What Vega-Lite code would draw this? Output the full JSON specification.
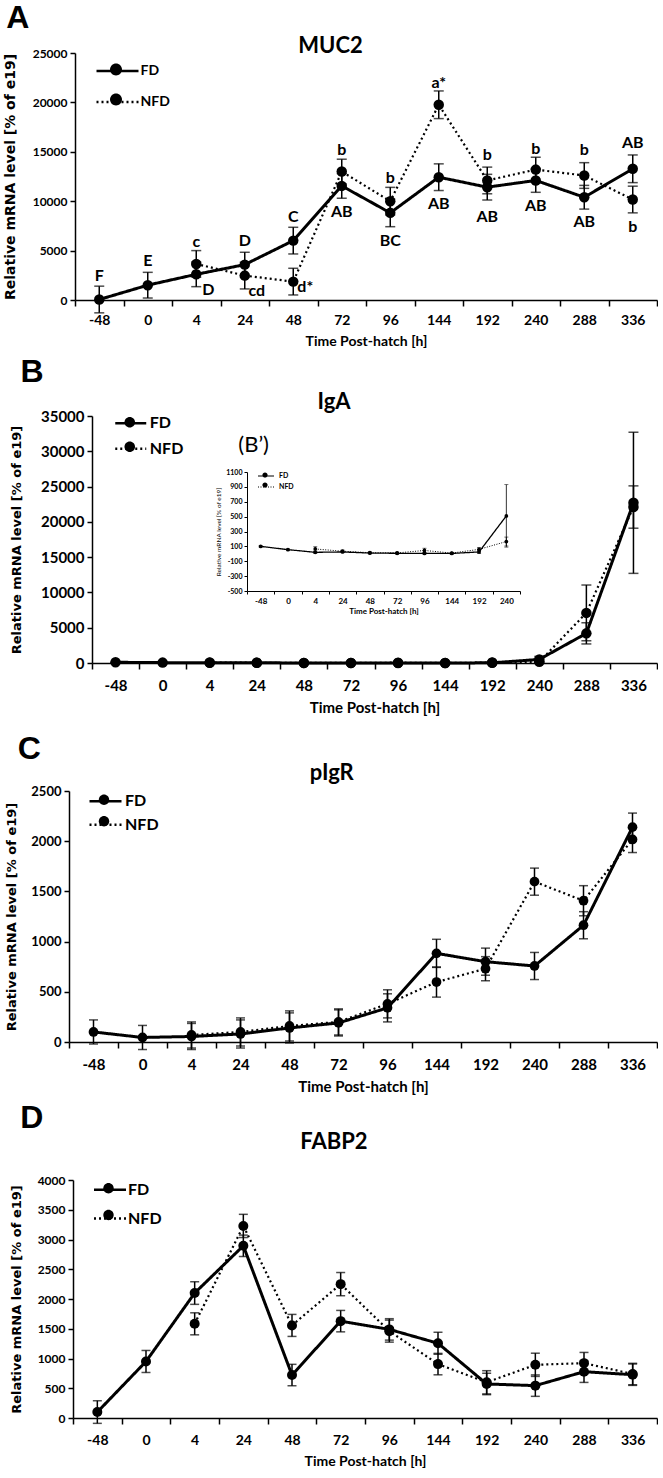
{
"$schema": "https://vega.github.io/schema/vega-lite/v6.json",
"padding": {"left": 3, "top": 2, "right": 0, "bottom": 0},
"background": "white",
"datasets": {
"muc2": [
{"t":"-48","grp":"FD","v":50,"e":1350},{"t":"0","grp":"FD","v":1500,"e":1300},{"t":"4","grp":"FD","v":2600,"e":1250},{"t":"24","grp":"FD","v":3580,"e":1250},{"t":"48","grp":"FD","v":6010,"e":1350},{"t":"72","grp":"FD","v":11550,"e":1250},{"t":"96","grp":"FD","v":8820,"e":1400},{"t":"144","grp":"FD","v":12430,"e":1350},{"t":"192","grp":"FD","v":11420,"e":1300},{"t":"240","grp":"FD","v":12100,"e":1200},{"t":"288","grp":"FD","v":10400,"e":1200},{"t":"336","grp":"FD","v":13280,"e":1400},
{"t":"4","grp":"NFD","v":3650,"e":1350},{"t":"24","grp":"NFD","v":2470,"e":1350},{"t":"48","grp":"NFD","v":1860,"e":1350},{"t":"72","grp":"NFD","v":13000,"e":1250},{"t":"96","grp":"NFD","v":10000,"e":1400},{"t":"144","grp":"NFD","v":19760,"e":1400},{"t":"192","grp":"NFD","v":12100,"e":1350},{"t":"240","grp":"NFD","v":13200,"e":1250},{"t":"288","grp":"NFD","v":12600,"e":1300},{"t":"336","grp":"NFD","v":10170,"e":1350}
],
"labA": [
{"t":"-48","v":2470,"lab":"F","pos":"c"},{"t":"0","v":3990,"lab":"E","pos":"c"},{"t":"4","v":5850,"lab":"c","pos":"c"},{"t":"24","v":5950,"lab":"D","pos":"c"},{"t":"48","v":8380,"lab":"C","pos":"c"},{"t":"72","v":15140,"lab":"b","pos":"c"},{"t":"72","v":8890,"lab":"AB","pos":"c"},{"t":"96","v":12360,"lab":"b","pos":"c"},{"t":"96","v":5950,"lab":"BC","pos":"c"},{"t":"144","v":21960,"lab":"a*","pos":"c"},{"t":"144","v":9730,"lab":"AB","pos":"c"},{"t":"192","v":14630,"lab":"b","pos":"c"},{"t":"192","v":8380,"lab":"AB","pos":"c"},{"t":"240","v":15300,"lab":"b","pos":"c"},{"t":"240","v":9490,"lab":"AB","pos":"c"},{"t":"288","v":15140,"lab":"b","pos":"c"},{"t":"288","v":7870,"lab":"AB","pos":"c"},{"t":"336","v":15880,"lab":"AB","pos":"c"},{"t":"336","v":7360,"lab":"b","pos":"c"},
{"t":"4","v":1010,"lab":"D","pos":"r"},{"t":"24","v":880,"lab":"cd","pos":"r"},{"t":"48","v":1280,"lab":"d*","pos":"r"}
],
"iga": [
{"t":"-48","grp":"FD","v":100,"e":10},{"t":"0","grp":"FD","v":56,"e":10},{"t":"4","grp":"FD","v":20,"e":15},{"t":"24","grp":"FD","v":25,"e":10},{"t":"48","grp":"FD","v":10,"e":10},{"t":"72","grp":"FD","v":7,"e":10},{"t":"96","grp":"FD","v":5,"e":10},{"t":"144","grp":"FD","v":5,"e":10},{"t":"192","grp":"FD","v":25,"e":20},{"t":"240","grp":"FD","v":510,"e":420},{"t":"288","grp":"FD","v":4200,"e":1500},{"t":"336","grp":"FD","v":22700,"e":10000},
{"t":"4","grp":"NFD","v":65,"e":30},{"t":"24","grp":"NFD","v":35,"e":15},{"t":"48","grp":"NFD","v":15,"e":10},{"t":"72","grp":"NFD","v":12,"e":10},{"t":"96","grp":"NFD","v":45,"e":30},{"t":"144","grp":"NFD","v":10,"e":10},{"t":"192","grp":"NFD","v":60,"e":25},{"t":"240","grp":"NFD","v":165,"e":60},{"t":"288","grp":"NFD","v":7100,"e":3950},{"t":"336","grp":"NFD","v":22100,"e":3000}
],
"igain": [
{"t":"-48","grp":"FD","v":100,"e":10},{"t":"0","grp":"FD","v":56,"e":10},{"t":"4","grp":"FD","v":20,"e":15},{"t":"24","grp":"FD","v":25,"e":10},{"t":"48","grp":"FD","v":10,"e":10},{"t":"72","grp":"FD","v":7,"e":10},{"t":"96","grp":"FD","v":5,"e":10},{"t":"144","grp":"FD","v":5,"e":10},{"t":"192","grp":"FD","v":25,"e":20},{"t":"240","grp":"FD","v":510,"e":420},
{"t":"4","grp":"NFD","v":65,"e":30},{"t":"24","grp":"NFD","v":35,"e":15},{"t":"48","grp":"NFD","v":15,"e":10},{"t":"72","grp":"NFD","v":12,"e":10},{"t":"96","grp":"NFD","v":45,"e":30},{"t":"144","grp":"NFD","v":10,"e":10},{"t":"192","grp":"NFD","v":60,"e":25},{"t":"240","grp":"NFD","v":165,"e":60}
],
"pigr": [
{"t":"-48","grp":"FD","v":100,"e":120},{"t":"0","grp":"FD","v":45,"e":120},{"t":"4","grp":"FD","v":55,"e":130},{"t":"24","grp":"FD","v":80,"e":140},{"t":"48","grp":"FD","v":140,"e":150},{"t":"72","grp":"FD","v":190,"e":130},{"t":"96","grp":"FD","v":340,"e":140},{"t":"144","grp":"FD","v":883,"e":140},{"t":"192","grp":"FD","v":800,"e":135},{"t":"240","grp":"FD","v":757,"e":135},{"t":"288","grp":"FD","v":1163,"e":135},{"t":"336","grp":"FD","v":2140,"e":140},
{"t":"4","grp":"NFD","v":70,"e":130},{"t":"24","grp":"NFD","v":100,"e":140},{"t":"48","grp":"NFD","v":160,"e":150},{"t":"72","grp":"NFD","v":200,"e":130},{"t":"96","grp":"NFD","v":380,"e":140},{"t":"144","grp":"NFD","v":597,"e":150},{"t":"192","grp":"NFD","v":730,"e":120},{"t":"240","grp":"NFD","v":1597,"e":135},{"t":"288","grp":"NFD","v":1407,"e":150},{"t":"336","grp":"NFD","v":2017,"e":130}
],
"fabp2": [
{"t":"-48","grp":"FD","v":100,"e":190},{"t":"0","grp":"FD","v":950,"e":185},{"t":"4","grp":"FD","v":2100,"e":190},{"t":"24","grp":"FD","v":2894,"e":180},{"t":"48","grp":"FD","v":722,"e":180},{"t":"72","grp":"FD","v":1628,"e":180},{"t":"96","grp":"FD","v":1489,"e":180},{"t":"144","grp":"FD","v":1256,"e":185},{"t":"192","grp":"FD","v":572,"e":180},{"t":"240","grp":"FD","v":544,"e":180},{"t":"288","grp":"FD","v":778,"e":180},{"t":"336","grp":"FD","v":728,"e":180},
{"t":"4","grp":"NFD","v":1583,"e":185},{"t":"24","grp":"NFD","v":3228,"e":195},{"t":"48","grp":"NFD","v":1556,"e":185},{"t":"72","grp":"NFD","v":2250,"e":195},{"t":"96","grp":"NFD","v":1460,"e":185},{"t":"144","grp":"NFD","v":906,"e":180},{"t":"192","grp":"NFD","v":600,"e":195},{"t":"240","grp":"NFD","v":894,"e":195},{"t":"288","grp":"NFD","v":922,"e":180},{"t":"336","grp":"NFD","v":739,"e":180}
]
},
"columns": 1,
"spacing": 8,
"resolve": {"scale": {"strokeDash": "independent", "color": "independent"}, "legend": {"strokeDash": "independent", "color": "independent"}},
"concat": [
{
"title": {"text":"A","anchor":"start","frame":"bounds","font":"Liberation Sans","fontSize":32,"fontWeight":"bold","dx":3,"offset":0},
"vconcat": [{
"width": 588, "height": 247,
"title": {"text":"MUC2","anchor":"middle","frame":"bounds","font":"Lato","fontSize":22,"fontWeight":"bold","offset":-11},
"data": {"name":"muc2"},
"encoding": {
"x": {"field":"t","type":"ordinal","bandPosition":0.5,"scale":{"type":"band","domain":["-48","0","4","24","48","72","96","144","192","240","288","336"],"range":[6,588],"paddingInner":0,"paddingOuter":0},"axis":{"title":"Time Post-hatch [h]","labelFontSize":14,"titleFontSize":14,"labelPadding":7}},
"y": {"field":"v","type":"quantitative","scale":{"domain":[0,25000],"nice":false,"zero":false},"axis":{"offset":-6,"values":[0,5000,10000,15000,20000,25000],"format":"d","title":"Relative mRNA level [% of e19]","labelFontSize":12,"titleFontSize":14,"titlePadding":15}}
},
"layer": [
{"mark":{"type":"errorbar","ticks":{"size":10,"thickness":1.5},"thickness":1.5,"color":"black"},"encoding":{"yError":{"field":"e"}}},
{"mark":{"type":"line","color":"black","strokeCap":"butt"},"encoding":{
"order":{"value":null},
"strokeWidth":{"condition":{"test":"datum.grp=='FD'","value":3},"value":2.2},
"strokeDash":{"field":"grp","type":"nominal","scale":{"domain":["FD","NFD"],"range":[[1,0],[2,3]]},"legend":{"title":null,"orient":"none","legendX":36.5,"legendY":6,"padding":0,"symbolType":"M -2 0 L 2 0","symbolSize":441,"symbolStrokeWidth":2.5,"symbolStrokeColor":"black","labelFont":"Lato","labelFontWeight":"bold","labelFontSize":14,"labelColor":"black","labelOffset":11,"rowPadding":12}}
}},
{"mark":{"type":"circle","size":110,"opacity":1},"encoding":{
"color":{"field":"grp","type":"nominal","scale":{"range":["black","black"]},"legend":{"title":null,"orient":"none","legendX":36.5,"legendY":6,"padding":0,"symbolType":"M 0.57 0 A 0.57 0.57 0 1 1 -0.57 0 A 0.57 0.57 0 1 1 0.57 0 Z","symbolSize":441,"symbolStrokeWidth":0,"symbolOpacity":1,"labelExpr":"''","labelFontSize":14,"labelOffset":11,"rowPadding":12}}
}},
{"data":{"name":"labA"},"transform":[{"filter":"datum.pos=='c'"}],"mark":{"type":"text","font":"Lato","fontWeight":"bold","fontSize":16,"color":"black"},"encoding":{"text":{"field":"lab"}}},
{"data":{"name":"labA"},"transform":[{"filter":"datum.pos=='r'"}],"mark":{"type":"text","font":"Lato","fontWeight":"bold","fontSize":16,"color":"black","dx":12},"encoding":{"text":{"field":"lab"}}}
]
}]
},
{
"title": {"text":"B","anchor":"start","frame":"bounds","font":"Liberation Sans","fontSize":32,"fontWeight":"bold","dx":10,"offset":2},
"vconcat": [{
"width": 588, "height": 247,
"title": {"text":"IgA","anchor":"middle","frame":"bounds","font":"Lato","fontSize":22,"fontWeight":"bold","offset":-5},
"layer": [
{
"data": {"name":"iga"},
"encoding": {
"x": {"field":"t","type":"ordinal","bandPosition":0.5,"scale":{"type":"band","domain":["-48","0","4","24","48","72","96","144","192","240","288","336"],"range":[23,588],"paddingInner":0,"paddingOuter":0},"axis":{"title":"Time Post-hatch [h]","labelFontSize":15,"titleFontSize":15}},
"y": {"field":"v","type":"quantitative","scale":{"domain":[0,35000],"nice":false,"zero":false},"axis":{"offset":-23,"values":[0,5000,10000,15000,20000,25000,30000,35000],"format":"d","title":"Relative mRNA level [% of e19]","labelFontSize":15,"titleFontSize":13,"titlePadding":17}}
},
"layer": [
{"mark":{"type":"errorbar","ticks":{"size":10,"thickness":1.5},"thickness":1.5,"color":"black"},"encoding":{"yError":{"field":"e"}}},
{"mark":{"type":"line","color":"black","strokeCap":"butt"},"encoding":{
"order":{"value":null},
"strokeWidth":{"condition":{"test":"datum.grp=='FD'","value":3},"value":2.2},
"strokeDash":{"field":"grp","type":"nominal","scale":{"domain":["FD","NFD"],"range":[[1,0],[2,3]]},"legend":{"title":null,"orient":"none","legendX":52.75,"legendY":-1.75,"padding":0,"symbolType":"M -2 0 L 2 0","symbolSize":240,"symbolStrokeWidth":2.5,"symbolStrokeColor":"black","labelFont":"Lato","labelFontWeight":"bold","labelFontSize":16,"labelColor":"black","labelOffset":10,"rowPadding":8.5}}
}},
{"mark":{"type":"circle","size":110,"opacity":1},"encoding":{
"color":{"field":"grp","type":"nominal","scale":{"range":["black","black"]},"legend":{"title":null,"orient":"none","legendX":52.75,"legendY":-1.75,"padding":0,"symbolType":"M 0.68 0 A 0.68 0.68 0 1 1 -0.68 0 A 0.68 0.68 0 1 1 0.68 0 Z","symbolSize":240,"symbolStrokeWidth":0,"symbolOpacity":1,"labelExpr":"''","labelFontSize":16,"labelOffset":10,"rowPadding":8.5}}
}}
]
},
{
"data": {"name":"igain"},
"encoding": {
"x": {"field":"t","type":"ordinal","bandPosition":0.5,"scale":{"type":"band","domain":["-48","0","4","24","48","72","96","144","192","240"],"range":[178,451],"paddingInner":0,"paddingOuter":0},"axis":{"orient":"bottom","offset":-72,"title":"Time Post-hatch [h]","labelFontSize":8,"titleFontSize":8,"tickSize":3,"tickWidth":1,"domainWidth":1,"labelPadding":3,"titlePadding":2}},
"y": {"field":"v","type":"quantitative","scale":{"domain":[-500,1100],"range":[175,56],"nice":false,"zero":false},"axis":{"orient":"left","offset":-178,"values":[-500,-300,-100,100,300,500,700,900,1100],"labelExpr":"'' + datum.value","title":"Relative mRNA level [% of e19]","labelFontSize":7,"titleFontSize":6.5,"titleFont":"Lato","titleFontWeight":"normal","tickSize":3,"tickWidth":1,"domainWidth":1,"labelPadding":2,"titlePadding":4}}
},
"layer": [
{"mark":{"type":"errorbar","ticks":{"size":4,"thickness":0.8},"thickness":0.8,"color":"black"},"encoding":{"yError":{"field":"e"}}},
{"mark":{"type":"line","color":"black","strokeCap":"butt"},"encoding":{
"order":{"value":null},
"strokeWidth":{"condition":{"test":"datum.grp=='FD'","value":1.3},"value":1},
"strokeDash":{"field":"grp","type":"nominal","scale":{"domain":["FD","NFD"],"range":[[1,0],[1,1.5]]},"legend":{"title":null,"orient":"none","legendX":192,"legendY":55,"padding":0,"symbolType":"M -2 0 L 2 0","symbolSize":64,"symbolStrokeWidth":1.2,"symbolStrokeColor":"black","labelFont":"Lato","labelFontWeight":"bold","labelFontSize":7,"labelColor":"black","labelOffset":8,"rowPadding":3}}
}},
{"mark":{"type":"circle","size":14,"opacity":1},"encoding":{
"color":{"field":"grp","type":"nominal","scale":{"range":["black","black"]},"legend":{"title":null,"orient":"none","legendX":192,"legendY":55,"padding":0,"symbolType":"M 0.65 0 A 0.65 0.65 0 1 1 -0.65 0 A 0.65 0.65 0 1 1 0.65 0 Z","symbolSize":64,"symbolStrokeWidth":0,"symbolOpacity":1,"labelExpr":"''","labelFontSize":7,"labelOffset":8,"rowPadding":3}}
}},
{"data":{"values":[{"t":"-48","v":1463,"lab":"(B’)"}]},"mark":{"type":"text","font":"Lato","fontSize":22,"color":"black","dx":-7},"encoding":{"text":{"field":"lab"}}}
]
}
],
"resolve": {"scale": {"x":"independent","y":"independent","strokeDash":"independent","color":"independent"}}
}]
},
{
"title": {"text":[" ","C"],"lineHeight":10,"anchor":"start","frame":"bounds","font":"Liberation Sans","fontSize":32,"fontWeight":"bold","dx":12,"offset":-4},
"vconcat": [{
"width": 588, "height": 251,
"title": {"text":"pIgR","anchor":"middle","frame":"bounds","font":"Lato","fontSize":22,"fontWeight":"bold","offset":0},
"data": {"name":"pigr"},
"encoding": {
"x": {"field":"t","type":"ordinal","bandPosition":0.5,"scale":{"type":"band","domain":["-48","0","4","24","48","72","96","144","192","240","288","336"],"range":[0,588],"paddingInner":0,"paddingOuter":0},"axis":{"title":"Time Post-hatch [h]","labelFontSize":15,"titleFontSize":15}},
"y": {"field":"v","type":"quantitative","scale":{"domain":[0,2500],"nice":false,"zero":false},"axis":{"values":[0,500,1000,1500,2000,2500],"format":"d","title":"Relative mRNA level [% of e19]","labelFontSize":13,"titleFontSize":13,"titlePadding":12}}
},
"layer": [
{"mark":{"type":"errorbar","ticks":{"size":9,"thickness":1.5},"thickness":1.5,"color":"black"},"encoding":{"yError":{"field":"e"}}},
{"mark":{"type":"line","color":"black","strokeCap":"butt"},"encoding":{
"order":{"value":null},
"strokeWidth":{"condition":{"test":"datum.grp=='FD'","value":3},"value":2.2},
"strokeDash":{"field":"grp","type":"nominal","scale":{"domain":["FD","NFD"],"range":[[1,0],[2,3]]},"legend":{"title":null,"orient":"none","legendX":27,"legendY":0.7,"padding":0,"symbolType":"M -2 0 L 2 0","symbolSize":256,"symbolStrokeWidth":2.5,"symbolStrokeColor":"black","labelFont":"Lato","labelFontWeight":"bold","labelFontSize":16,"labelColor":"black","labelOffset":10,"rowPadding":5.6}}
}},
{"mark":{"type":"circle","size":95,"opacity":1},"encoding":{
"color":{"field":"grp","type":"nominal","scale":{"range":["black","black"]},"legend":{"title":null,"orient":"none","legendX":27,"legendY":0.7,"padding":0,"symbolType":"M 0.65 0 A 0.65 0.65 0 1 1 -0.65 0 A 0.65 0.65 0 1 1 0.65 0 Z","symbolSize":256,"symbolStrokeWidth":0,"symbolOpacity":1,"labelExpr":"''","labelFontSize":16,"labelOffset":10,"rowPadding":5.6}}
}}
]
}]
},
{
"title": {"text":"D","anchor":"start","frame":"bounds","font":"Liberation Sans","fontSize":32,"fontWeight":"bold","dx":10,"offset":-4},
"vconcat": [{
"width": 588, "height": 238,
"title": {"text":"FABP2","anchor":"middle","frame":"bounds","font":"Lato","fontSize":22,"fontWeight":"bold","offset":20},
"data": {"name":"fabp2"},
"encoding": {
"x": {"field":"t","type":"ordinal","bandPosition":0.5,"scale":{"type":"band","domain":["-48","0","4","24","48","72","96","144","192","240","288","336"],"range":[4,588],"paddingInner":0,"paddingOuter":0},"axis":{"title":"Time Post-hatch [h]","labelFontSize":14,"titleFontSize":14}},
"y": {"field":"v","type":"quantitative","scale":{"domain":[0,4000],"nice":false,"zero":false},"axis":{"offset":-4,"values":[0,500,1000,1500,2000,2500,3000,3500,4000],"format":"d","title":"Relative mRNA level [% of e19]","labelFontSize":12,"titleFontSize":13,"titlePadding":14}}
},
"layer": [
{"mark":{"type":"errorbar","ticks":{"size":9,"thickness":1.5},"thickness":1.5,"color":"black"},"encoding":{"yError":{"field":"e"}}},
{"mark":{"type":"line","color":"black","strokeCap":"butt"},"encoding":{
"order":{"value":null},
"strokeWidth":{"condition":{"test":"datum.grp=='FD'","value":3},"value":2.2},
"strokeDash":{"field":"grp","type":"nominal","scale":{"domain":["FD","NFD"],"range":[[1,0],[2,3]]},"legend":{"title":null,"orient":"none","legendX":31.5,"legendY":0.3,"padding":0,"symbolType":"M -2 0 L 2 0","symbolSize":256,"symbolStrokeWidth":2.5,"symbolStrokeColor":"black","labelFont":"Lato","labelFontWeight":"bold","labelFontSize":16,"labelColor":"black","labelOffset":8.5,"rowPadding":10.7}}
}},
{"mark":{"type":"circle","size":100,"opacity":1},"encoding":{
"color":{"field":"grp","type":"nominal","scale":{"range":["black","black"]},"legend":{"title":null,"orient":"none","legendX":31.5,"legendY":0.3,"padding":0,"symbolType":"M 0.65 0 A 0.65 0.65 0 1 1 -0.65 0 A 0.65 0.65 0 1 1 0.65 0 Z","symbolSize":256,"symbolStrokeWidth":0,"symbolOpacity":1,"labelExpr":"''","labelFontSize":16,"labelOffset":8.5,"rowPadding":10.7}}
}}
]
}]
}
],
"config": {
"view": {"stroke": null},
"title": {"color":"black"},
"axis": {"grid":false,"domainColor":"black","domainWidth":1.5,"tickColor":"black","tickWidth":1.5,"tickSize":5,"labelColor":"black","labelFont":"Lato","labelFontWeight":"bold","titleColor":"black"},
"axisX": {"labelAngle":0,"tickBand":"extent","tickSize":6,"labelPadding":9,"titleFont":"Lato","titleFontWeight":"bold","titlePadding":7},
"axisY": {"titleFont":"DejaVu Sans","titleFontWeight":"bold","labelPadding":3}
}
}
